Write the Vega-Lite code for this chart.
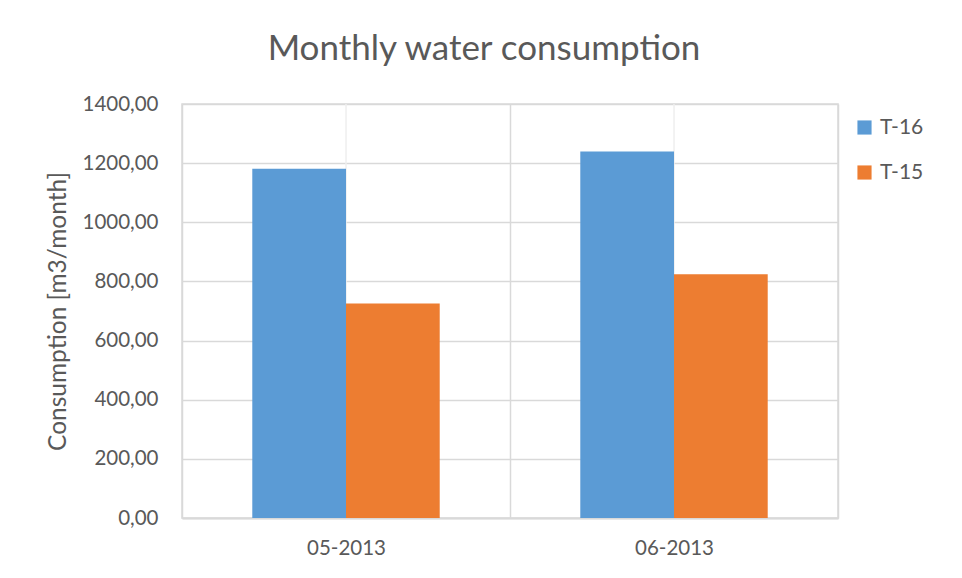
{
  "$schema": "https://vega.github.io/schema/vega-lite/v6.json",
  "autosize": "none",
  "width": 656,
  "height": 414,
  "padding": {"left": 182, "top": 104, "right": 124, "bottom": 60},
  "background": "white",
  "title": {
    "text": "Monthly water consumption",
    "font": "Lato",
    "fontSize": 35,
    "fontWeight": "normal",
    "color": "#595959",
    "anchor": "middle",
    "frame": "group",
    "dx": -26,
    "offset": 27
  },
  "data": {
    "values": [
      {"month": "05-2013", "series": "T-16", "value": 1181},
      {"month": "05-2013", "series": "T-15", "value": 725},
      {"month": "06-2013", "series": "T-16", "value": 1239},
      {"month": "06-2013", "series": "T-15", "value": 824}
    ]
  },
  "layer": [
    {
      "mark": {"type": "rule", "color": "#eeeeee", "strokeWidth": 1},
      "encoding": {
        "x": {"field": "month", "type": "nominal"}
      }
    },
    {
      "mark": {"type": "bar"},
      "encoding": {
        "x": {
          "field": "month",
          "type": "nominal",
          "scale": {"paddingInner": 0, "paddingOuter": 0},
          "axis": {
            "title": null,
            "labelAngle": 0,
            "labelAlign": "center",
            "labelFont": "Lato",
            "labelFontSize": 20.5,
            "labelColor": "#595959",
            "labelPadding": 30,
            "ticks": false,
            "domainColor": "#d9d9d9",
            "domainWidth": 2,
            "grid": true,
            "gridColor": "#d9d9d9",
            "gridWidth": 1.5,
            "tickBand": "extent"
          }
        },
        "xOffset": {
          "field": "series",
          "type": "nominal",
          "sort": ["T-16", "T-15"],
          "scale": {"paddingInner": 0, "paddingOuter": 0.75}
        },
        "y": {
          "field": "value",
          "type": "quantitative",
          "scale": {"domain": [0, 1400]},
          "axis": {
            "title": "Consumption [m3/month]",
            "titleFont": "Lato",
            "titleFontSize": 24.5,
            "titleFontWeight": "normal",
            "titleColor": "#595959",
            "titlePadding": 12,
            "values": [0, 200, 400, 600, 800, 1000, 1200, 1400],
            "labelExpr": "replace(format(datum.value, '.2f'), '.', ',')",
            "labelFont": "Lato",
            "labelFontSize": 20.5,
            "labelColor": "#595959",
            "labelPadding": 24,
            "ticks": false,
            "domain": false,
            "grid": true,
            "gridColor": "#d9d9d9",
            "gridWidth": 1.5
          }
        },
        "color": {
          "field": "series",
          "type": "nominal",
          "sort": ["T-16", "T-15"],
          "scale": {"domain": ["T-16", "T-15"], "range": ["#5b9bd5", "#ed7d31"]},
          "legend": {
            "title": null,
            "orient": "none",
            "legendX": 672,
            "legendY": 13,
            "symbolType": "square",
            "symbolSize": 200,
            "symbolStrokeWidth": 0,
            "labelFont": "Lato",
            "labelFontSize": 21,
            "labelColor": "#595959",
            "labelOffset": 5,
            "rowPadding": 23
          }
        }
      }
    }
  ],
  "config": {
    "view": {"stroke": "#d9d9d9", "strokeWidth": 1.5}
  }
}
